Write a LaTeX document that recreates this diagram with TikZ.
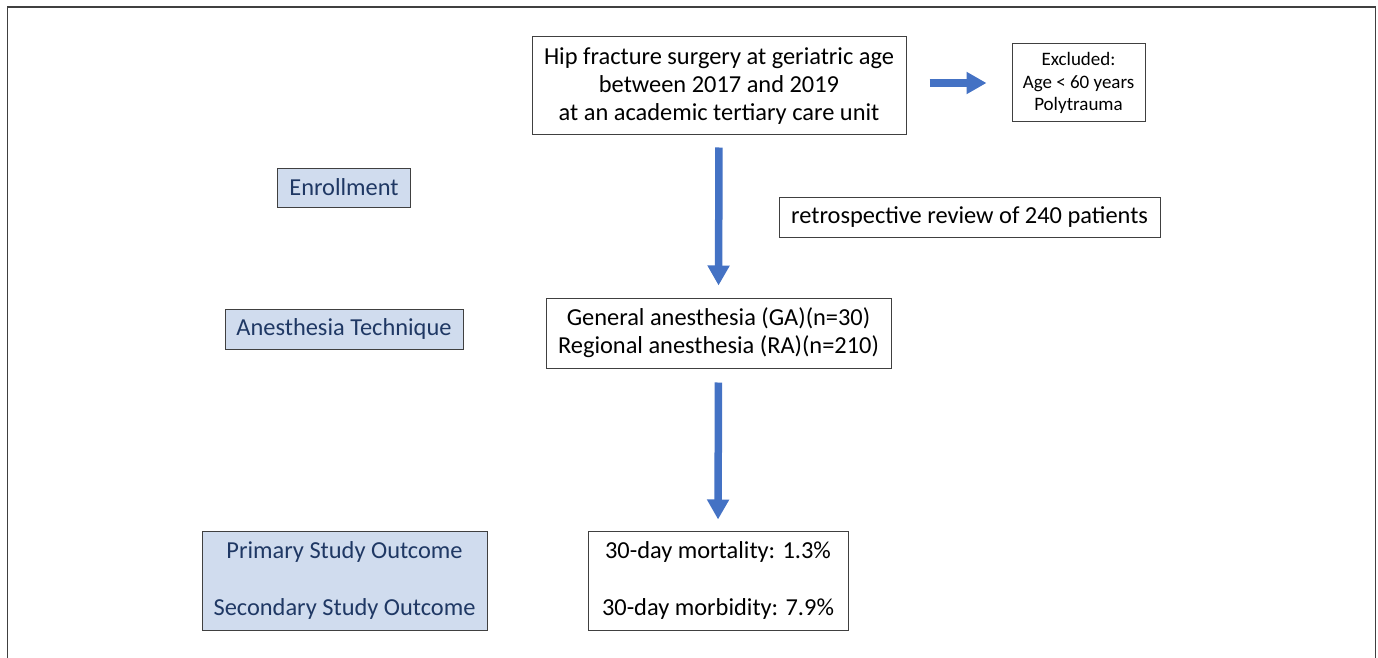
\documentclass[tikz,border=0pt]{standalone}
\usepackage{fontspec}
\setmainfont{Carlito}
\usetikzlibrary{arrows.meta}
\definecolor{boxgray}{RGB}{64,64,64}
\definecolor{lblue}{RGB}{208,220,238}
\definecolor{dblue}{RGB}{31,56,100}
\definecolor{arrowblue}{RGB}{68,114,196}
\tikzset{
  wbox/.style={draw=boxgray, line width=1pt, fill=white, inner sep=0pt, align=center,
    font=\fontsize{24.4}{28}\selectfont},
  bbox/.style={wbox, fill=lblue, text=dblue},
  blarrow/.style={draw=arrowblue, line width=7.5pt, -{Triangle[width=21pt,length=20pt]}}
}
\begin{document}
\begin{tikzpicture}[x=1pt,y=-1pt]
\useasboundingbox (0,0) rectangle (1378,658);
\draw[boxgray, line width=1.8pt] (7.5,660) -- (7.5,7) -- (1375.5,7) -- (1375.5,660);

\node[wbox, minimum width=374pt, minimum height=98pt] (hip) at (719,86)
  {Hip fracture surgery at geriatric age\\between 2017 and 2019\\at an academic tertiary care unit};
\node[wbox, minimum width=133pt, minimum height=78pt, font=\fontsize{19}{22.5}\selectfont] (excl) at (1078.5,83)
  {Excluded:\\Age < 60 years\\Polytrauma};
\node[bbox, minimum width=133pt, minimum height=39pt] (enroll) at (344,187.5) {Enrollment};
\node[wbox, minimum width=381pt, minimum height=40pt] (retro) at (969.5,217) {retrospective review of 240 patients};
\node[bbox, minimum width=238pt, minimum height=40pt] (anes) at (344,329) {Anesthesia Technique};
\node[wbox, minimum width=345pt, minimum height=70pt] (ga) at (718.5,333)
  {General anesthesia (GA)(n=30)\\Regional anesthesia (RA)(n=210)};
\node[bbox, minimum width=285pt, minimum height=99pt] (prim) at (344.5,580.5)
  {Primary Study Outcome\\[29pt]Secondary Study Outcome};
\node[wbox, minimum width=260pt, minimum height=99pt] (mort) at (718,580.5)
  {30-day mortality: 1.3\%\\[29pt]30-day morbidity: 7.9\%};

\draw[blarrow, shorten <=23pt, shorten >=25pt] (hip.east |- excl.west) -- (excl.west);
\draw[blarrow, shorten <=12pt, shorten >=12pt] (hip.south) -- (ga.north);
\draw[blarrow, shorten <=14pt, shorten >=11pt] (ga.south) -- (mort.north);
\end{tikzpicture}
\end{document}
